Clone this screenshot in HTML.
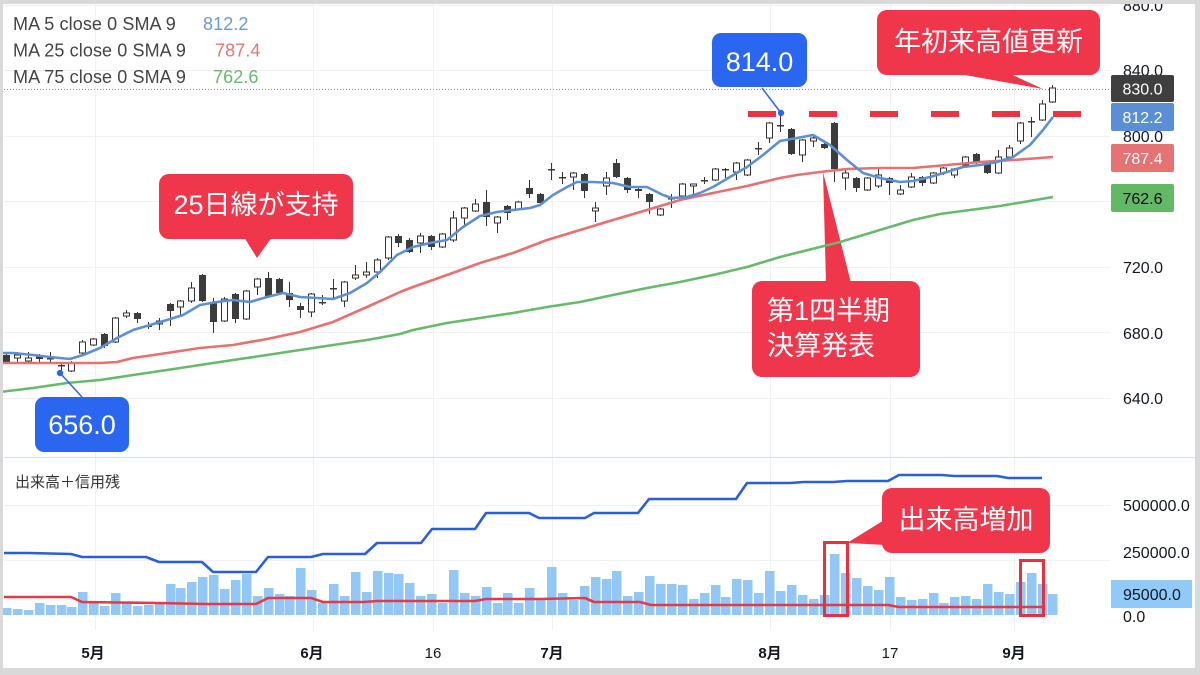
<!DOCTYPE html>
<html><head><meta charset="utf-8"><style>
html,body{margin:0;padding:0;background:#d9d9d9;}
svg{display:block;}
text{font-family:"Liberation Sans","Noto Sans CJK JP",sans-serif;}
.jp{font-family:"Liberation Sans","Noto Sans CJK JP",sans-serif;}
</style></head><body>
<svg width="1200" height="675" viewBox="0 0 1200 675" xmlns="http://www.w3.org/2000/svg">
<rect x="0" y="0" width="1200" height="675" fill="#ffffff"/>
<!-- grid -->
<g stroke="#eff1f5" stroke-width="1">
<path d="M4 5.5H1110M4 70.5H1110M4 136.5H1110M4 201.5H1110M4 267.5H1110M4 332.5H1110M4 398.5H1110M4 505.5H1110M4 560.5H1110"/>
<path d="M95.5 4V630M313.5 4V630M433.5 4V630M552.5 4V630M770.5 4V630M890.5 4V630M1014.5 4V630"/>
</g>
<line x1="4" y1="457.5" x2="1195" y2="457.5" stroke="#dcdfe6" stroke-width="1.2"/>
<line x1="4" y1="89.5" x2="1111" y2="89.5" stroke="#8a8a8a" stroke-width="1" stroke-dasharray="1 2"/>

<!-- volume bars -->
<path fill="#92c7f6" d="M2 608h9.5V615h-9.5zM13 609h9.5V615h-9.5zM24 610h9.5V615h-9.5zM35 603h9.5V615h-9.5zM46 605h9.5V615h-9.5zM57 605h9.5V615h-9.5zM67 607h9.5V615h-9.5zM78 592h9.5V615h-9.5zM89 601h9.5V615h-9.5zM100 606h9.5V615h-9.5zM111 593h9.5V615h-9.5zM122 602h9.5V615h-9.5zM133 606h9.5V615h-9.5zM144 605h9.5V615h-9.5zM155 603h9.5V615h-9.5zM166 584h9.5V615h-9.5zM176 588h9.5V615h-9.5zM187 582h9.5V615h-9.5zM198 577h9.5V615h-9.5zM209 575h9.5V615h-9.5zM220 589h9.5V615h-9.5zM231 580h9.5V615h-9.5zM242 574h9.5V615h-9.5zM253 596h9.5V615h-9.5zM264 588h9.5V615h-9.5zM275 594h9.5V615h-9.5zM285 596h9.5V615h-9.5zM296 568h9.5V615h-9.5zM307 590h9.5V615h-9.5zM318 603h9.5V615h-9.5zM329 584h9.5V615h-9.5zM340 596h9.5V615h-9.5zM351 572h9.5V615h-9.5zM362 592h9.5V615h-9.5zM373 571h9.5V615h-9.5zM384 573h9.5V615h-9.5zM394 574h9.5V615h-9.5zM405 583h9.5V615h-9.5zM416 596h9.5V615h-9.5zM427 594h9.5V615h-9.5zM438 603h9.5V615h-9.5zM449 570h9.5V615h-9.5zM460 593h9.5V615h-9.5zM471 596h9.5V615h-9.5zM482 587h9.5V615h-9.5zM493 603h9.5V615h-9.5zM503 593h9.5V615h-9.5zM514 603h9.5V615h-9.5zM525 588h9.5V615h-9.5zM536 600h9.5V615h-9.5zM547 567h9.5V615h-9.5zM558 593h9.5V615h-9.5zM569 600h9.5V615h-9.5zM580 586h9.5V615h-9.5zM591 577h9.5V615h-9.5zM602 579h9.5V615h-9.5zM612 571h9.5V615h-9.5zM623 596h9.5V615h-9.5zM634 592h9.5V615h-9.5zM645 576h9.5V615h-9.5zM656 584h9.5V615h-9.5zM667 584h9.5V615h-9.5zM678 585h9.5V615h-9.5zM689 599h9.5V615h-9.5zM700 593h9.5V615h-9.5zM711 585h9.5V615h-9.5zM721 597h9.5V615h-9.5zM732 579h9.5V615h-9.5zM743 580h9.5V615h-9.5zM754 593h9.5V615h-9.5zM765 571h9.5V615h-9.5zM776 591h9.5V615h-9.5zM787 585h9.5V615h-9.5zM798 595h9.5V615h-9.5zM809 599h9.5V615h-9.5zM820 595h9.5V615h-9.5zM830 554h9.5V615h-9.5zM841 573h9.5V615h-9.5zM852 578h9.5V615h-9.5zM863 586h9.5V615h-9.5zM874 590h9.5V615h-9.5zM885 577h9.5V615h-9.5zM896 597h9.5V615h-9.5zM907 600h9.5V615h-9.5zM918 599h9.5V615h-9.5zM929 593h9.5V615h-9.5zM939 603h9.5V615h-9.5zM950 597h9.5V615h-9.5zM961 596h9.5V615h-9.5zM972 599h9.5V615h-9.5zM983 584h9.5V615h-9.5zM994 592h9.5V615h-9.5zM1005 594h9.5V615h-9.5zM1016 582h9.5V615h-9.5zM1027 573h9.5V615h-9.5zM1038 584h9.5V615h-9.5zM1048 594h9.5V615h-9.5z"/>

<!-- volume pane lines -->
<polyline fill="none" stroke="#2b5fd9" stroke-width="2.6" stroke-linejoin="round" points="4,553 29,553 71,554 82,557 146,557 159,562 202,562 213,572 256,572 268,557 311,557 323,554 365,554 377,543 421,543 432,529 475,529 486,513 529,513 539,518 585,518 594,513 638,513 649,499 736,499 747,483 790,483 804,482 833,482 847,481 888,481 899,475 942,475 954,476 997,476 1008,478 1042,478"/>
<polyline fill="none" stroke="#e53946" stroke-width="2.6" stroke-linejoin="round" points="4,597 71,597 82,602 157,603 207,604 256,604 268,598 311,598 323,602 364,602 377,601 475,601 486,599 540,599 585,598 594,602 640,602 651,605 888,605 899,607 1042,607"/>

<!-- earnings pointer (behind MA lines) -->
<polygon points="823,172 826,283 851,283" fill="#f0364a"/>

<!-- candles: wicks -->
<path fill="none" stroke="#333" stroke-width="1" d="M6.5 352V364M17.5 352V362M28.5 352V364M39.5 354V362M50.5 352V364M61.5 362V372M71.5 361V372M82.5 340V356M93.5 338V346M104.5 333V348M115.5 317V343M126.5 310V318M137.5 312V323M148.5 322V329M159.5 318V330M170.5 303V326M180.5 300V316M191.5 282V303M202.5 274V302M213.5 298V333M224.5 297V322M235.5 293V323M246.5 290V320M257.5 278V295M268.5 272V298M279.5 278V294M289.5 282V307M300.5 303V318M311.5 293V317M322.5 295V305M333.5 279V298M344.5 281V307M355.5 265V280M366.5 262V278M377.5 258V278M388.5 236V260M398.5 234V247M409.5 238V253M420.5 233V253M431.5 235V250M442.5 233V248M453.5 211V242M464.5 207V225M475.5 199V212M486.5 190V226M497.5 216V233M507.5 205V220M518.5 201V210M529.5 180V198M540.5 193V205M551.5 163V180M562.5 172V184M573.5 172V190M584.5 173V198M595.5 202V222M606.5 172V195M616.5 159V178M627.5 177V193M638.5 187V198M649.5 193V214M660.5 208V216M671.5 194V208M682.5 183V197M693.5 184V197M704.5 177V184M715.5 168V181M725.5 168V178M736.5 162V180M747.5 159V176M758.5 142V155M769.5 122V143M780.5 113V132M791.5 128V155M802.5 139V162M813.5 135V147M824.5 143V149M834.5 122V182M845.5 170V190M856.5 177V192M867.5 177V191M878.5 167V188M889.5 177V195M900.5 185V195M911.5 173V188M922.5 176V186M933.5 172V184M943.5 167V175M954.5 168V178M965.5 156V166M976.5 153V164M987.5 162V174M998.5 150V174M1009.5 145V158M1020.5 122V144M1031.5 117V137M1042.5 100V121M1052.5 85V103"/>
<!-- dark bodies -->
<path fill="#3c3c3c" d="M3 355h7v7h-7zM36 356h7v3h-7zM47 358h7v1.5h-7zM58 365h7v1.5h-7zM101 334h7v12h-7zM134 313h7v6h-7zM145 325h7v2h-7zM167 304h7v7h-7zM199 275h7v26h-7zM210 303h7v19h-7zM232 294h7v25h-7zM265 278h7v19h-7zM276 279h7v14h-7zM286 293h7v7h-7zM297 306h7v4h-7zM319 302h7v1.5h-7zM330 288h7v1.5h-7zM395 236h7v7h-7zM406 240h7v12h-7zM428 236h7v11h-7zM483 202h7v15h-7zM504 206h7v7h-7zM526 188h7v6h-7zM537 194h7v9h-7zM548 169h7v1.5h-7zM559 177h7v1.5h-7zM581 174h7v17h-7zM613 163h7v14h-7zM624 178h7v12h-7zM635 189h7v2h-7zM646 194h7v8h-7zM668 198h7v1.5h-7zM701 180h7v1.5h-7zM722 169h7v1.5h-7zM755 148h7v1.5h-7zM777 125h7v1.5h-7zM788 129h7v25h-7zM821 144h7v4h-7zM831 123h7v46h-7zM853 178h7v10h-7zM886 178h7v5h-7zM919 177h7v6h-7zM973 154h7v9h-7zM984 163h7v10h-7zM1028 121h7v1.5h-7z"/>
<!-- white bodies -->
<path fill="#ffffff" stroke="#333" stroke-width="1" d="M14.5 355h6v3h-6zM25.5 358h6v3h-6zM68.5 363h6v8h-6zM79.5 342h6v11h-6zM90.5 339h6v6h-6zM112.5 318h6v24h-6zM123.5 313h6v3h-6zM156.5 321h6v3h-6zM177.5 301h6v6h-6zM188.5 288h6v13h-6zM221.5 299h6v22h-6zM243.5 291h6v28h-6zM254.5 279h6v8h-6zM308.5 294h6v18h-6zM341.5 282h6v19h-6zM352.5 275h6v3h-6zM363.5 272h6v3h-6zM374.5 260h6v12h-6zM385.5 237h6v21h-6zM417.5 236h6v7h-6zM439.5 234h6v13h-6zM450.5 218h6v22h-6zM461.5 208h6v10h-6zM472.5 204h6v7h-6zM494.5 217h6v6h-6zM515.5 202h6v7h-6zM570.5 173h6v4h-6zM592.5 208h6v3h-6zM603.5 178h6v8h-6zM657.5 209h6v6h-6zM679.5 184h6v12h-6zM690.5 184h6v2h-6zM712.5 169h6v11h-6zM733.5 163h6v9h-6zM744.5 160h6v15h-6zM766.5 123h6v15h-6zM799.5 140h6v15h-6zM810.5 138h6v3h-6zM842.5 173h6v5h-6zM864.5 178h6v12h-6zM875.5 175h6v11h-6zM897.5 190h6v4h-6zM908.5 177h6v10h-6zM930.5 173h6v10h-6zM940.5 168h6v5h-6zM951.5 169h6v6h-6zM962.5 157h6v8h-6zM995.5 157h6v16h-6zM1006.5 148h6v9h-6zM1017.5 123h6v18h-6zM1039.5 104h6v16h-6zM1049.5 88h6v14h-6z"/>

<!-- moving averages -->
<polyline fill="none" stroke="#66bb6a" stroke-width="2.6" stroke-linejoin="round" points="0,392 33,388 67,383 100,380 133,375 167,370 200,365 233,360 267,355 300,350 333,345 367,340 400,334 413,330 447,323 480,318 513,313 547,307 580,302 613,295 647,288 680,282 713,275 747,267 780,257 840,242 913,220 940,214 1000,206 1053,197"/>
<polyline fill="none" stroke="#e8706f" stroke-width="2.6" stroke-linejoin="round" points="0,363 100,363 117,362 133,358 167,353 200,348 233,345 267,339 300,332 333,322 367,307 400,292 413,287 447,275 480,263 513,253 547,240 580,230 613,220 647,210 680,200 713,193 747,186 780,178 797,175 820,172 847,169 880,168 913,168 947,165 980,162 1013,160 1053,157"/>
<polyline fill="none" stroke="#5d8fd3" stroke-width="2.6" stroke-linejoin="round" points="0,353 13,353 33,355 50,357 70,359 83,355 100,348 117,338 133,330 150,325 167,320 183,315 200,305 217,302 233,300 250,302 267,297 283,293 300,297 317,298 333,299 350,293 367,283 380,272 397,255 413,247 430,243 447,240 463,227 480,216 497,212 513,210 530,208 540,205 553,195 567,187 577,182 593,182 613,183 630,187 647,187 663,195 672,198 687,197 700,193 713,187 730,177 747,167 763,155 780,141 797,138 813,135 830,145 847,160 863,173 880,178 900,182 913,181 930,177 947,172 963,167 980,165 997,162 1013,157 1030,145 1043,130 1053,117"/>

<!-- red dashed high line -->
<path d="M748 114H1082" stroke="#ec3342" stroke-width="6" stroke-dasharray="28 33" fill="none"/>

<!-- 814 callout -->
<line x1="781" y1="113" x2="762" y2="88" stroke="#2a66f0" stroke-width="1.5"/>
<circle cx="781" cy="113" r="3.2" fill="#2a66f0"/>
<rect x="712" y="33" width="95" height="54" rx="9" fill="#2a66f0"/>
<text x="759.5" y="71" font-size="27" fill="#fff" text-anchor="middle">814.0</text>

<!-- 656 callout -->
<line x1="60" y1="373" x2="82" y2="397" stroke="#2a66f0" stroke-width="1.5"/>
<circle cx="60" cy="373" r="3.2" fill="#2a66f0"/>
<rect x="35" y="397" width="94" height="55" rx="9" fill="#2a66f0"/>
<text x="82" y="434" font-size="27" fill="#fff" text-anchor="middle">656.0</text>

<!-- 25日線が支持 -->
<rect x="159" y="174" width="194" height="65" rx="10" fill="#f0364a"/>
<polygon points="244,237 272,237 257,258" fill="#f0364a"/>
<text x="256" y="214" font-size="27" fill="#fff" text-anchor="middle">25日線が支持</text>

<!-- 年初来高値更新 -->
<polygon points="948,72 1006,72 1043,89" fill="#f0364a"/>
<rect x="877" y="10" width="223" height="65" rx="10" fill="#f0364a"/>
<text x="988.5" y="51" font-size="27" fill="#fff" text-anchor="middle">年初来高値更新</text>

<!-- 第1四半期 決算発表 -->
<rect x="752" y="281" width="168" height="96" rx="10" fill="#f0364a"/>
<text x="767" y="320" font-size="27" fill="#fff">第1四半期</text>
<text x="767" y="355" font-size="27" fill="#fff">決算発表</text>

<!-- 出来高増加 -->
<polygon points="886,519 886,545 847,543" fill="#f0364a"/>
<rect x="882" y="488" width="168" height="65" rx="10" fill="#f0364a"/>
<text x="966" y="529" font-size="27" fill="#fff" text-anchor="middle">出来高増加</text>

<!-- red highlight boxes -->
<rect x="824.5" y="542.5" width="23" height="73" fill="none" stroke="#e8303f" stroke-width="3"/>
<rect x="1020.5" y="560.5" width="23" height="55" fill="none" stroke="#e8303f" stroke-width="3"/>

<!-- legend -->
<g font-size="18" fill="#444" letter-spacing="0.1">
<text x="13" y="30">MA 5 close 0 SMA 9</text>
<text x="13" y="56.5">MA 25 close 0 SMA 9</text>
<text x="13" y="83">MA 75 close 0 SMA 9</text>
<text x="203" y="30" fill="#6b9bd2">812.2</text>
<text x="215" y="56.5" fill="#e57373">787.4</text>
<text x="213" y="83" fill="#66bb6a">762.6</text>
</g>
<text x="15" y="487" font-size="15" fill="#333">出来高＋信用残</text>

<!-- right axis labels -->
<g font-size="16" fill="#131722">
<text x="1123" y="11">880.0</text>
<text x="1123" y="76">840.0</text>
<text x="1123" y="142">800.0</text>
<text x="1123" y="273">720.0</text>
<text x="1123" y="339">680.0</text>
<text x="1123" y="404">640.0</text>
<text x="1123" y="511">500000.0</text>
<text x="1123" y="558">250000.0</text>
<text x="1123" y="622">0.0</text>
</g>
<rect x="1111" y="75" width="63" height="27" rx="2" fill="#3f3f3f"/>
<text x="1142.5" y="94.5" font-size="16" fill="#fff" text-anchor="middle">830.0</text>
<rect x="1111" y="103" width="63" height="28" rx="2" fill="#5a8fd6"/>
<text x="1142.5" y="123" font-size="16" fill="#fff" text-anchor="middle">812.2</text>
<rect x="1111" y="144" width="63" height="28" rx="2" fill="#e57373"/>
<text x="1142.5" y="164" font-size="16" fill="#fff" text-anchor="middle">787.4</text>
<rect x="1111" y="184" width="63" height="28" rx="2" fill="#63b866"/>
<text x="1142.5" y="204" font-size="16" fill="#111" text-anchor="middle">762.6</text>
<rect x="1111" y="580" width="81" height="28" fill="#90caf9"/>
<text x="1123" y="600" font-size="16" fill="#131722">95000.0</text>

<!-- time axis -->
<g font-size="15" fill="#131722" text-anchor="middle">
<text x="93" y="658" font-weight="bold">5月</text>
<text x="312" y="658" font-weight="bold">6月</text>
<text x="433" y="658">16</text>
<text x="552" y="658" font-weight="bold">7月</text>
<text x="770" y="658" font-weight="bold">8月</text>
<text x="890" y="658">17</text>
<text x="1014" y="658" font-weight="bold">9月</text>
</g>

<!-- gray frame -->
<g fill="#d9d9d9">
<rect x="0" y="0" width="1200" height="4"/>
<rect x="0" y="668" width="1200" height="7"/>
<rect x="0" y="0" width="3" height="675"/>
<rect x="1195" y="0" width="5" height="675"/>
</g>
</svg>
</body></html>
